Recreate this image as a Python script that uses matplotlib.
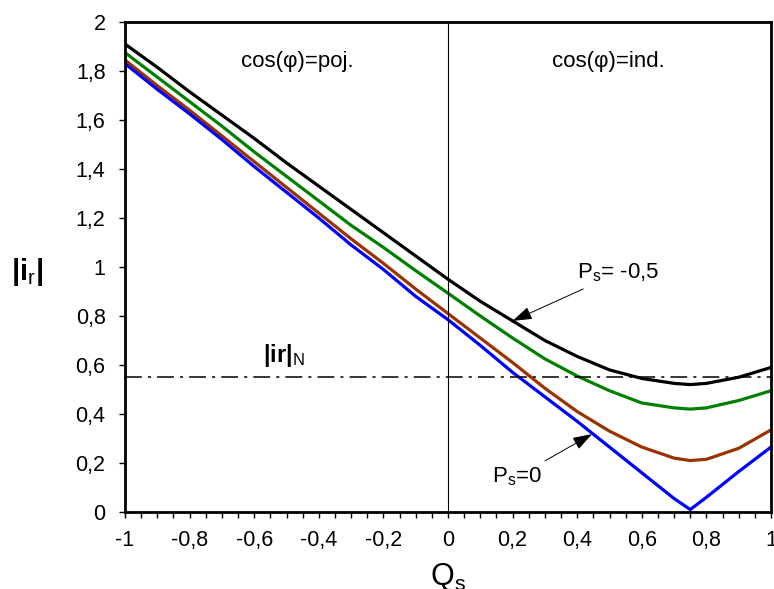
import matplotlib
matplotlib.use("Agg")
import matplotlib.pyplot as plt
from matplotlib.ticker import MultipleLocator, FuncFormatter

plt.rcParams["font.family"] = ["Liberation Sans", "DejaVu Sans"]
plt.rcParams["mathtext.fontset"] = "custom"
plt.rcParams["mathtext.rm"] = "Liberation Sans"
plt.rcParams["mathtext.it"] = "Liberation Sans:italic"
plt.rcParams["mathtext.bf"] = "Liberation Sans:bold"

# rotor current magnitude vs. stator reactive power
qs = [-1.0, -0.9, -0.8, -0.7, -0.6, -0.5, -0.4, -0.3, -0.2, -0.1, 0.0,
      0.1, 0.2, 0.3, 0.4, 0.5, 0.6, 0.7, 0.75, 0.8, 0.9, 1.0]

ir_ps_m05 = [1.91, 1.815, 1.715, 1.62, 1.525, 1.425, 1.33, 1.235, 1.14, 1.045, 0.95,
             0.86, 0.78, 0.70, 0.635, 0.58, 0.545, 0.525, 0.52, 0.525, 0.55, 0.59]
ir_green = [1.875, 1.775, 1.675, 1.575, 1.47, 1.37, 1.27, 1.17, 1.08, 0.985, 0.893,
            0.80, 0.71, 0.625, 0.555, 0.495, 0.445, 0.425, 0.42, 0.425, 0.455, 0.495]
ir_brown = [1.845, 1.74, 1.64, 1.535, 1.43, 1.325, 1.22, 1.115, 1.015, 0.91, 0.81,
            0.71, 0.61, 0.505, 0.41, 0.33, 0.265, 0.22, 0.21, 0.215, 0.26, 0.335]
ir_ps_0 = [1.83, 1.725, 1.625, 1.52, 1.41, 1.305, 1.20, 1.09, 0.99, 0.88, 0.785,
           0.68, 0.57, 0.47, 0.37, 0.265, 0.16, 0.055, 0.01, 0.06, 0.165, 0.265]

ir_nominal = 0.55

fig = plt.figure(figsize=(7.74, 5.89), dpi=100)
ax = fig.add_axes([125 / 774, 77 / 589, 646 / 774, 490 / 589])

ax.plot(qs, ir_ps_m05, color="black", lw=2.3)
ax.plot(qs, ir_green, color="#008000", lw=2.3)
ax.plot(qs, ir_brown, color="#993300", lw=2.3)
ax.plot(qs, ir_ps_0, color="#0000ff", lw=2.3)

ax.axhline(ir_nominal, color="black", lw=1.1, linestyle=(0, (11, 4, 2, 4)))
ax.axvline(0, color="black", lw=0.8)

ax.set_xlim(-1, 1)
ax.set_ylim(0, 2)

for s in ax.spines.values():
    s.set_linewidth(2)

def comma_fmt(v, pos):
    s = f"{v:.1f}".rstrip("0").rstrip(".")
    if s == "-0":
        s = "0"
    return s.replace(".", ",")

ax.xaxis.set_major_locator(MultipleLocator(0.2))
ax.xaxis.set_minor_locator(MultipleLocator(0.05))
ax.yaxis.set_major_locator(MultipleLocator(0.2))
ax.xaxis.set_major_formatter(FuncFormatter(comma_fmt))
ax.yaxis.set_major_formatter(FuncFormatter(comma_fmt))
ax.tick_params(axis="x", which="both", direction="out", length=4, width=1,
               labelsize=15.5, pad=9)
ax.tick_params(axis="y", which="major", direction="out", length=4, width=1,
               labelsize=15.5, pad=10)

ax.set_xlabel(r"Q$_\mathrm{s}$", fontsize=22, va="top")
ax.xaxis.set_label_coords(0.5, -0.099)
ax.set_ylabel(r"$\mathbf{|i}_\mathrm{r}\mathbf{|}$", fontsize=21, rotation=0,
              va="center", ha="center")
ax.yaxis.set_label_coords(-0.152, 0.49)

ax.text(-0.467, 1.837, "cos(φ)=poj.", fontsize=16, ha="center", va="center")
ax.text(0.495, 1.837, "cos(φ)=ind.", fontsize=16, ha="center", va="center")
ax.text(-0.508, 0.637, r"$\mathbf{|ir|}_\mathrm{N}$", fontsize=17,
        ha="center", va="center")

arrow = dict(arrowstyle="-|>,head_length=0.6,head_width=0.2", color="black",
             lw=0.7, mutation_scale=20, shrinkA=3, shrinkB=0)
ax.annotate(r"P$_\mathrm{s}$= -0,5", xy=(0.2, 0.78), xytext=(0.4, 0.975),
            fontsize=16, ha="left", va="center", arrowprops=arrow)
ax.annotate(r"P$_\mathrm{s}$=0", xy=(0.446, 0.318), xytext=(0.29, 0.143),
            fontsize=16, ha="right", va="center", arrowprops=arrow)

fig.savefig("out.png", dpi=100)
